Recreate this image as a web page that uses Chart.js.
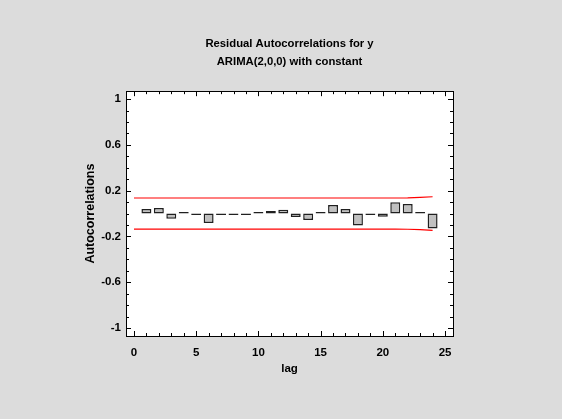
<!DOCTYPE html>
<html><head><meta charset="utf-8">
<script src="https://cdn.jsdelivr.net/npm/chart.js@4/dist/chart.umd.min.js"></script>
<style>html,body{margin:0;padding:0;background:#dcdcdc;overflow:hidden}#wrap{width:562px;height:419px;position:relative}</style>
</head><body><div id="wrap"><canvas id="c" width="562" height="419"></canvas></div>
<script>
// ---- data ----
const lags = [1,2,3,4,5,6,7,8,9,10,11,12,13,14,15,16,17,18,19,20,21,22,23,24];
const autocorrelations = [0.039,0.048,-0.045,0.008,-0.005,-0.083,-0.002,-0.003,-0.001,0.005,0.022,0.033,-0.030,-0.057,0.010,0.074,0.039,-0.104,-0.003,-0.028,0.098,0.083,0.005,-0.130];
const limitLags = [0,1,2,3,4,5,6,7,8,9,10,11,12,13,14,15,16,17,18,19,20,21,22,23,24];
const upperLimits = [0.136,0.136,0.136,0.136,0.136,0.136,0.136,0.136,0.136,0.136,0.136,0.136,0.136,0.136,0.136,0.136,0.136,0.136,0.136,0.136,0.136,0.136,0.137,0.141,0.147];
const lowerLimits = [-0.136,-0.136,-0.136,-0.136,-0.136,-0.136,-0.136,-0.136,-0.136,-0.136,-0.136,-0.136,-0.136,-0.136,-0.136,-0.136,-0.136,-0.136,-0.136,-0.136,-0.136,-0.136,-0.137,-0.141,-0.147];
const xTickValues = [0,5,10,15,20,25];
const xTickLabels = ['0','5','10','15','20','25'];
const yTickValues = [-1,-0.6,-0.2,0.2,0.6,1];
const yTickLabels = ['-1','-0.6','-0.2','0.2','0.6','1'];
const titleLines = ['Residual Autocorrelations for y','ARIMA(2,0,0) with constant'];
const xTitle = 'lag';
const yTitle = 'Autocorrelations';

const FONT = 'Arial, "Liberation Sans", sans-serif';

const framePlugin = {
  id: 'frame',
  beforeDraw(chart) {
    const ctx = chart.ctx, a = chart.chartArea;
    ctx.save();
    ctx.fillStyle = '#dcdcdc';
    ctx.fillRect(0, 0, chart.width, chart.height);
    ctx.fillStyle = '#ffffff';
    ctx.fillRect(a.left, a.top, a.right - a.left, a.bottom - a.top);
    ctx.restore();
  },
  afterDraw(chart) {
    const ctx = chart.ctx, a = chart.chartArea;
    const xs = chart.scales.x, ys = chart.scales.y;
    ctx.save();
    ctx.strokeStyle = '#000';
    ctx.lineWidth = 1;
    ctx.strokeRect(Math.round(a.left) + 0.5, Math.round(a.top) + 0.5, Math.round(a.right - a.left), Math.round(a.bottom - a.top));
    ctx.beginPath();
    for (let v = 0; v <= 25; v++) {
      const px = Math.round(xs.getPixelForValue(v)) + 0.5;
      const len = (v % 5 === 0) ? 5 : 3;
      ctx.moveTo(px, a.bottom); ctx.lineTo(px, a.bottom - len);
      ctx.moveTo(px, a.top); ctx.lineTo(px, a.top + len);
    }
    for (let i = -10; i <= 10; i++) {
      const v = i / 10;
      const py = Math.round(ys.getPixelForValue(v)) + 0.5;
      const major = (Math.abs(i) % 4 === 2) || Math.abs(i) === 10;
      const len = major ? 5 : 3;
      ctx.moveTo(a.left, py); ctx.lineTo(a.left + len, py);
      ctx.moveTo(a.right, py); ctx.lineTo(a.right - len, py);
    }
    ctx.stroke();
    ctx.restore();
  }
};

new Chart(document.getElementById('c'), {
  type: 'bar',
  data: {
    datasets: [
      {
        type: 'bar',
        label: 'Autocorrelations',
        data: lags.map((l, i) => ({x: l, y: autocorrelations[i]})),
        backgroundColor: '#c0c0c0',
        borderColor: '#202020',
        borderWidth: 1.5,
        borderSkipped: false,
        minBarLength: 1.5,
        categoryPercentage: 1,
        barPercentage: 0.8,
        order: 1
      },
      {
        type: 'line',
        label: 'upper',
        data: limitLags.map((l, i) => ({x: l, y: upperLimits[i]})),
        borderColor: '#ff0000',
        borderWidth: 1.2,
        pointRadius: 0,
        fill: false,
        tension: 0,
        order: 2
      },
      {
        type: 'line',
        label: 'lower',
        data: limitLags.map((l, i) => ({x: l, y: lowerLimits[i]})),
        borderColor: '#ff0000',
        borderWidth: 1.2,
        pointRadius: 0,
        fill: false,
        tension: 0,
        order: 2
      }
    ]
  },
  options: {
    responsive: false,
    animation: false,
    devicePixelRatio: 1,
    layout: { padding: { left: 83, right: 109, top: 35, bottom: 43 } },
    plugins: {
      legend: { display: false },
      tooltip: { enabled: false },
      title: {
        display: true,
        text: titleLines,
        fullSize: false,
        color: '#000',
        font: { family: FONT, size: 11.3, weight: 'bold', lineHeight: 1.6 },
        padding: { top: 0, bottom: 20 }
      }
    },
    scales: {
      x: {
        type: 'linear',
        min: -0.64,
        max: 25.64,
        offset: false,
        grid: { display: false, drawTicks: false },
        border: { display: false },
        afterBuildTicks(s) { s.ticks = xTickValues.map(v => ({value: v})); },
        afterFit(s) { s.height = 40; },
        ticks: {
          color: '#000',
          padding: 10,
          maxRotation: 0,
          font: { family: FONT, size: 11.5, weight: 'bold' },
          callback: (v) => { const i = xTickValues.indexOf(v); return i >= 0 ? xTickLabels[i] : ''; }
        },
        title: {
          display: true, text: xTitle, color: '#000',
          font: { family: FONT, size: 11.5, weight: 'bold' },
          padding: { top: 0, bottom: 0 }
        }
      },
      y: {
        type: 'linear',
        min: -1.07,
        max: 1.07,
        grid: { display: false, drawTicks: false },
        border: { display: false },
        afterBuildTicks(s) { s.ticks = yTickValues.map(v => ({value: v})); },
        afterFit(s) { s.width = 43; },
        ticks: {
          color: '#000',
          padding: 5,
          font: { family: FONT, size: 11.5, weight: 'bold' },
          callback: (v) => { const i = yTickValues.findIndex(t => Math.abs(t - v) < 1e-9); return i >= 0 ? yTickLabels[i] : ''; }
        },
        title: {
          display: true, text: yTitle, color: '#000',
          font: { family: FONT, size: 12.5, weight: 'bold' },
          padding: { top: 0, bottom: 0 }
        }
      }
    }
  },
  plugins: [framePlugin]
});
</script>
</body></html>
